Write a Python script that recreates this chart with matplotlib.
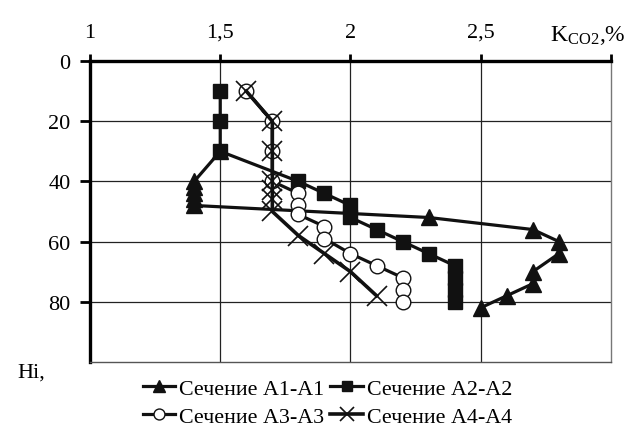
import matplotlib
matplotlib.use('Agg')
import matplotlib.pyplot as plt

# данные (K_CO2, %; Hi)
A1_x = [1.5, 1.4, 1.4, 1.4, 1.4, 1.4, 2.3, 2.7, 2.8, 2.8, 2.7, 2.7, 2.6, 2.5]
A1_y = [30, 40, 42, 44, 46, 48, 52, 56, 60, 64, 70, 74, 78, 82]
A2_x = [1.5, 1.5, 1.5, 1.8, 1.9, 2.0, 2.0, 2.1, 2.2, 2.3, 2.4, 2.4, 2.4, 2.4]
A2_y = [10, 20, 30, 40, 44, 48, 52, 56, 60, 64, 68, 72, 76, 80]
A3_x = [1.6, 1.7, 1.7, 1.7, 1.8, 1.8, 1.8, 1.9, 1.9, 2.0, 2.1, 2.2, 2.2, 2.2]
A3_y = [10, 20, 30, 40, 44, 48, 51, 55, 59, 64, 68, 72, 76, 80]
A4_x = [1.6, 1.7, 1.7, 1.7, 1.7, 1.7, 1.7, 1.8, 1.9, 2.0, 2.1]
A4_y = [10, 20, 30, 40, 43, 46, 50, 58, 64, 70, 78]

x_ticks = [1, 1.5, 2, 2.5, 3]
x_labels = ['1', '1,5', '2', '2,5', '']
y_ticks = [0, 20, 40, 60, 80]
labels = ['Сечение А1-А1', 'Сечение А2-А2', 'Сечение А3-А3', 'Сечение А4-А4']

plt.rcParams['font.family'] = ['Liberation Serif', 'DejaVu Serif']
plt.rcParams['mathtext.fontset'] = 'custom'
plt.rcParams['mathtext.rm'] = 'Liberation Serif'

fig = plt.figure(figsize=(6.27, 4.31), dpi=100)
ax = fig.add_axes([0.1435, 0.158, 0.831, 0.698])

lw = 2.3
p1, = ax.plot(A1_x, A1_y, color='#111111', lw=lw, marker='^', ms=12, zorder=3)
p2, = ax.plot(A2_x, A2_y, color='#111111', lw=lw, marker='s', ms=10.5, zorder=4)
p3, = ax.plot(A3_x, A3_y, color='#111111', lw=lw, marker='o', ms=10.5,
              mfc='white', mec='#111111', mew=1.0, zorder=5)
p4, = ax.plot(A4_x, A4_y, color='#111111', lw=2.6, marker='x', ms=14, mew=1.2, zorder=6)

ax.set_xlim(1, 3)
ax.set_ylim(100, 0)
ax.set_xticks(x_ticks)
ax.set_xticklabels(x_labels)
ax.set_yticks(y_ticks)
ax.xaxis.tick_top()
ax.tick_params(axis='x', direction='out', length=5, width=2, pad=9, labelsize=16)
ax.tick_params(axis='y', direction='out', length=7, width=2, pad=7, labelsize=16)

for x in [1.5, 2, 2.5]:
    ax.axvline(x, color='#222222', lw=0.9, zorder=1)
for y in [20, 40, 60, 80]:
    ax.axhline(y, color='#222222', lw=0.9, zorder=1)

ax.spines['top'].set_linewidth(2.4)
ax.spines['left'].set_linewidth(2.4)
ax.spines['right'].set_linewidth(1.0)
ax.spines['right'].set_color('#777777')
ax.spines['bottom'].set_linewidth(1.0)
ax.spines['bottom'].set_color('#555555')

fig.text(0.998, 0.918, r'$\mathregular{K_{CO2}}$,%', ha='right', va='center', fontsize=17)
fig.text(0.028, 0.135, 'Hi,', ha='left', va='center', fontsize=16)

# порядок: строка 1 — А1, А2; строка 2 — А3, А4
leg = fig.legend([p1, p3, p2, p4], [labels[0], labels[2], labels[1], labels[3]],
                 ncol=2, loc='upper center',
                 bbox_to_anchor=(0.522, 0.16), fontsize=15.8, frameon=True,
                 fancybox=False, edgecolor='white', facecolor='white', framealpha=1,
                 handlelength=1.5, handletextpad=0.15, columnspacing=0.3,
                 labelspacing=0.35, borderpad=0.3, markerscale=0.75)

fig.savefig('out.png', dpi=100)
